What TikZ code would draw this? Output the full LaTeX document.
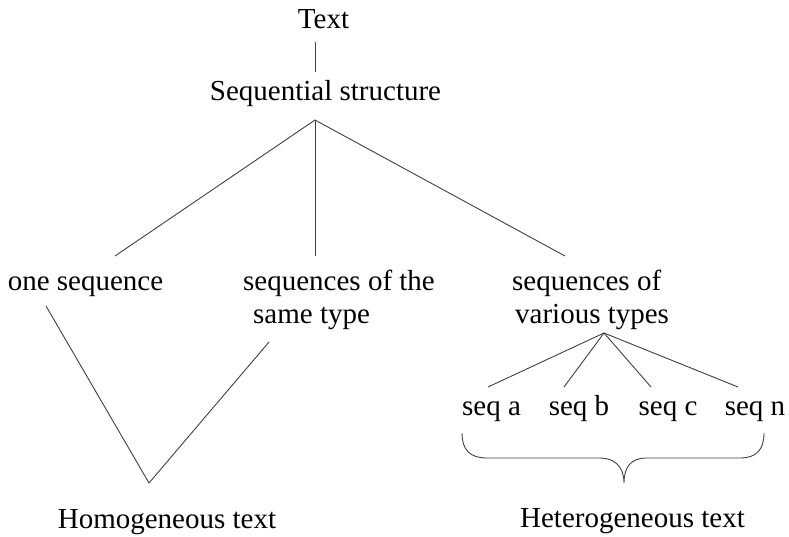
\documentclass[tikz,border=0pt]{standalone}
\usepackage{fontspec}
\setmainfont{Liberation Serif}
\begin{document}
\begin{tikzpicture}[x=1pt,y=-1pt,
  lbl/.style={inner sep=0pt,font=\fontsize{29}{33}\selectfont},
  edge/.style={draw=black!75,line width=0.9pt}]
\useasboundingbox (0,0) rectangle (789,536);
% labels
\node[lbl,anchor=base] (text) at (323.5,28) {Text};
\node[lbl,anchor=base] (seqstr) at (325.5,100) {Sequential structure};
\node[lbl,anchor=base] (one) at (85.5,290) {one sequence};
\node[lbl,anchor=base west] (same) at (243,290)
  {\begin{tabular}[t]{@{}l@{}}sequences of the\\\hspace*{10pt}same type\end{tabular}};
\node[lbl,anchor=base west] (various) at (512,290)
  {\begin{tabular}[t]{@{}l@{}}sequences of\\\hspace*{3pt}various types\end{tabular}};
\node[lbl,anchor=base] (sa) at (491.5,415) {seq a};
\node[lbl,anchor=base] (sb) at (579,415) {seq b};
\node[lbl,anchor=base] (sc) at (668,415) {seq c};
\node[lbl,anchor=base] (sn) at (755,415) {seq n};
\node[lbl,anchor=base] (homo) at (167,528) {Homogeneous text};
\node[lbl,anchor=base] (hetero) at (632.5,527) {Heterogeneous text};
% connector end points
\coordinate (textB) at (315,42);
\coordinate (seqT) at (315,72);
\coordinate (apex) at (315,120);
\coordinate (oneT) at (115,256);
\coordinate (sameT) at (315,256);
\coordinate (varT) at (565,256);
\coordinate (oneB) at (46,306);
\coordinate (sameB) at (269,342);
\coordinate (vtip) at (149,483);
\coordinate (varB) at (604,333);
\coordinate (saT) at (488,387);
\coordinate (sbT) at (564,387);
\coordinate (scT) at (651,387);
\coordinate (snT) at (738,387);
% tree
\draw[edge] (textB) -- (seqT);
\draw[edge] (oneT) -- (apex) -- (varT);
\draw[edge] (apex) -- (sameT);
\draw[edge] (oneB) -- (vtip) -- (sameB);
\draw[edge] (saT) -- (varB) -- (snT);
\draw[edge] (sbT) -- (varB) -- (scT);
% brace under the seq labels
\draw[edge] (462,433) .. controls (462,450) and (470,458) .. (487,458)
  -- (600,458) .. controls (614,458) and (624,466) .. (624,483)
  .. controls (624,466) and (632,458) .. (646,458)
  -- (740,458) .. controls (756,458) and (764,450) .. (764,433);
\end{tikzpicture}
\end{document}
